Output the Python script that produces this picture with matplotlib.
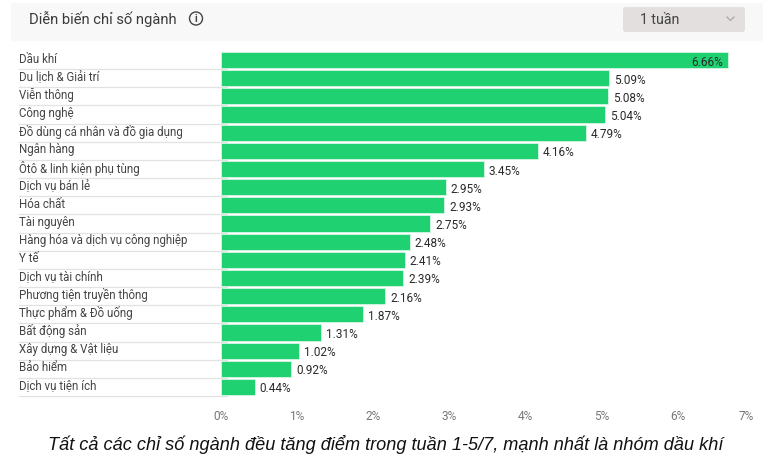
import matplotlib
matplotlib.use("Agg")
import matplotlib.pyplot as plt
from matplotlib.patches import FancyBboxPatch, Rectangle, Circle

W, H = 773, 457

sectors = ["Dầu khí", "Du lịch & Giải trí", "Viễn thông", "Công nghệ",
           "Đồ dùng cá nhân và đồ gia dụng", "Ngân hàng", "Ôtô & linh kiện phụ tùng",
           "Dịch vụ bán lẻ", "Hóa chất", "Tài nguyên", "Hàng hóa và dịch vụ công nghiệp",
           "Y tế", "Dịch vụ tài chính", "Phương tiện truyền thông", "Thực phẩm & Đồ uống",
           "Bất động sản", "Xây dựng & Vật liệu", "Bảo hiểm", "Dịch vụ tiện ích"]
changes = [6.66, 5.09, 5.08, 5.04, 4.79, 4.16, 3.45, 2.95, 2.93, 2.75,
           2.48, 2.41, 2.39, 2.16, 1.87, 1.31, 1.02, 0.92, 0.44]
x_ticks = [0, 1, 2, 3, 4, 5, 6, 7]

plt.rcParams["font.family"] = ["Roboto", "DejaVu Sans"]
GREEN = "#1fd171"
TEXT = "#444444"

fig = plt.figure(figsize=(W / 100, H / 100), dpi=100, facecolor="white")

# overlay in pixel coordinates for header, labels and caption
bg = fig.add_axes([0, 0, 1, 1])
bg.set_xlim(0, W)
bg.set_ylim(H, 0)
bg.axis("off")
bg.add_patch(Rectangle((11, 3), 752, 38, fc="#f8f8f8", ec="none"))
bg.add_patch(FancyBboxPatch((623, 7), 122, 25, boxstyle="round,pad=0,rounding_size=3",
                            fc="#e2dfde", ec="none"))
bg.text(29, 19, "Diễn biến chỉ số ngành", fontsize=10.65, color="#3a3a3a", va="center")
bg.add_patch(Circle((196, 18.5), 6.5, fc="none", ec="#444444", lw=1))
bg.text(196, 18.5, "i", fontsize=7.5, color="#444444", ha="center", va="center", fontweight="bold")
bg.text(640, 19.5, "1 tuần", fontsize=10.2, color="#444444", va="center")
bg.plot([727, 730.5, 734], [17, 20.5, 17], color="#a8a8a8", lw=0.9)
bg.text(386, 444, "Tất cả các chỉ số ngành đều tăng điểm trong tuần 1-5/7, mạnh nhất là nhóm dầu khí",
        fontsize=13.1, style="italic", color="#111111", ha="center", va="center",
        family=["Liberation Sans", "DejaVu Sans"])

# plot area: x 221..754, y 51..396
ax = fig.add_axes([221 / W, 1 - 396 / H, 533 / W, 345 / H])
ax.patch.set_alpha(0)
rows = list(range(len(sectors)))
ax.barh(rows, changes, height=0.89, color=GREEN, edgecolor="#d8f5e5", linewidth=0.6)
ax.set_xlim(0, 7)
ax.set_ylim(len(sectors) - 0.5, -0.5)
ax.set_yticks([])
ax.set_xticks(x_ticks)
ax.set_xticklabels([f"{t}%" for t in x_ticks], fontsize=8.6, color="#777777")
ax.get_xticklabels()[-1].set_ha("right")
ax.tick_params(axis="x", length=0, pad=10)
for side in ax.spines:
    ax.spines[side].set_visible(False)

pitch = 345 / len(sectors)
for i, (name, val) in enumerate(zip(sectors, changes)):
    y = 51 + pitch * i
    bg.plot([19, 227], [y + pitch, y + pitch], color="#e2e2e2", lw=0.9, zorder=1)
    bg.text(19, y + pitch / 2 - 1, name, fontsize=8.3, color=TEXT, va="center")
    if val > 6:
        ax.annotate(f"{val:.2f}%", (val, i), xytext=(-5, -2), textcoords="offset pixels",
                    ha="right", va="center", fontsize=8.5, color="#2a2a2a")
    else:
        ax.annotate(f"{val:.2f}%", (val, i), xytext=(5, -2), textcoords="offset pixels",
                    ha="left", va="center", fontsize=8.5, color="#2a2a2a")

fig.savefig("out.png", dpi=100)
